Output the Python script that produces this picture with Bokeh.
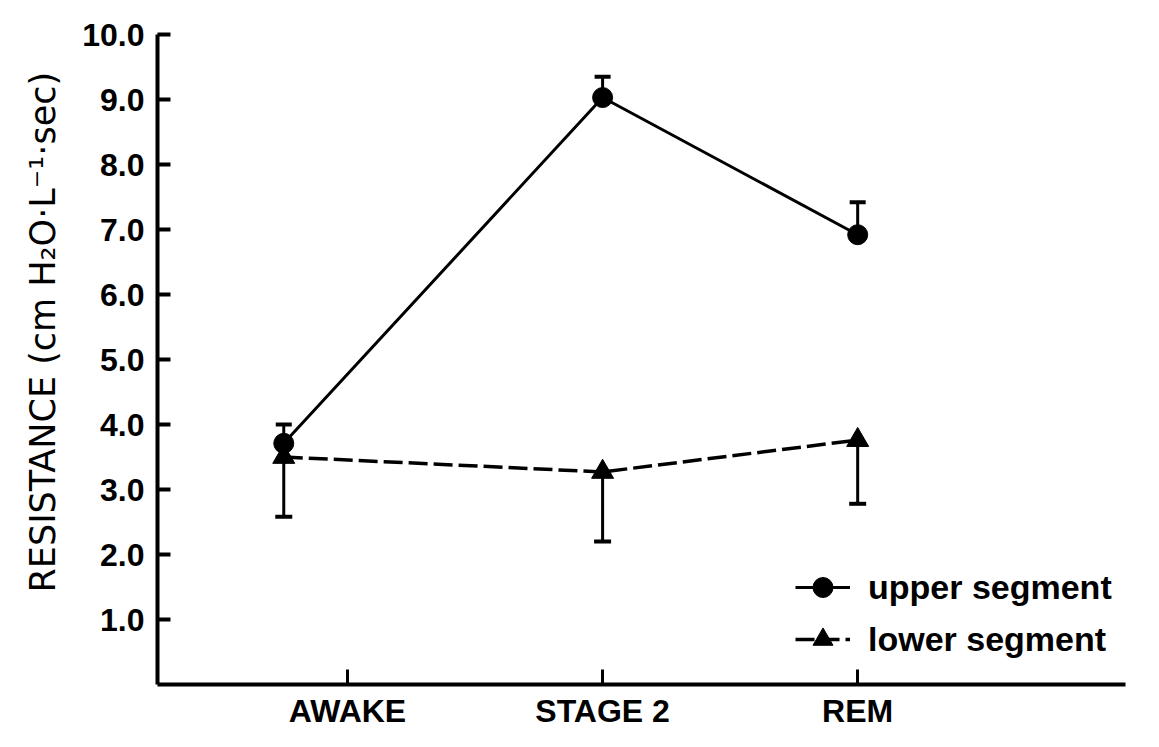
from bokeh.plotting import figure
from bokeh.models import (ColumnDataSource, Range1d, FixedTicker, NumeralTickFormatter,
                          Whisker, TeeHead, Legend, LegendItem, Title)
from bokeh.embed import file_html
from bokeh.resources import INLINE

# ---- data ----
categories = ["AWAKE", "STAGE 2", "REM"]
upper_mean = [3.71, 9.03, 6.92]
upper_err_top = [4.00, 9.35, 7.42]
lower_mean = [3.50, 3.27, 3.76]
lower_err_bottom = [2.58, 2.20, 2.78]
y_ticks = [1, 2, 3, 4, 5, 6, 7, 8, 9, 10]

# layout: category slots 1..3; the AWAKE points sit left of their tick in the original
cat_pos = [i + 1 for i in range(len(categories))]
point_shift = [-0.25, 0.0, 0.0]
xs = [c + s for c, s in zip(cat_pos, point_shift)]

up_src = ColumnDataSource(dict(x=xs, y=upper_mean, top=upper_err_top))
lo_src = ColumnDataSource(dict(x=xs, y=lower_mean, bottom=lower_err_bottom))

p = figure(width=1143, height=731, output_backend="svg", toolbar_location=None,
           x_range=Range1d(0.255, 4.05), y_range=Range1d(0, 10),
           min_border_left=157, min_border_right=18, min_border_top=34, min_border_bottom=46,
           background_fill_color="white", border_fill_color="white")
p.outline_line_color = None
p.xgrid.visible = False
p.ygrid.visible = False

TICK_FONT = "Liberation Sans"

# y axis
ya = p.yaxis[0]
ya.ticker = FixedTicker(ticks=y_ticks)
ya.formatter = NumeralTickFormatter(format="0.0")
ya.axis_line_width = 4
ya.axis_line_color = "black"
ya.major_tick_in = 13
ya.major_tick_out = 0
ya.major_tick_line_width = 4
ya.minor_tick_line_color = None
ya.major_label_text_font = TICK_FONT
ya.major_label_text_font_style = "bold"
ya.major_label_text_font_size = "32px"
ya.major_label_text_color = "black"
ya.major_label_standoff = 13

# x axis
xa = p.xaxis[0]
xa.ticker = FixedTicker(ticks=cat_pos)
xa.major_label_overrides = {c: n for c, n in zip(cat_pos, categories)}
xa.axis_line_width = 4
xa.axis_line_color = "black"
xa.major_tick_in = 15
xa.major_tick_out = 0
xa.major_tick_line_width = 3
xa.minor_tick_line_color = None
xa.major_label_text_font = TICK_FONT
xa.major_label_text_font_style = "bold"
xa.major_label_text_font_size = "32px"
xa.major_label_text_color = "black"
xa.major_label_standoff = 8

# y axis title, placed as a left-side title so it can sit where the original has it
ytitle = Title(text="RESISTANCE (cm H\u2082O\u00b7L\u207b\u00b9\u00b7sec)", align="left", offset=92,
               text_font="DejaVu Sans", text_font_size="35px", text_font_style="normal",
               text_color="black", standoff=34)
p.add_layout(ytitle, "left")

# series
l_up = p.line("x", "y", source=up_src, line_color="black", line_width=3)
l_lo = p.line("x", "y", source=lo_src, line_color="black", line_width=3.5, line_dash="19 6")

w_up = Whisker(base="x", lower="y", upper="top", source=up_src,
               line_color="black", line_width=3,
               upper_head=TeeHead(size=16, line_width=4, line_color="black"), lower_head=None)
w_lo = Whisker(base="x", lower="bottom", upper="y", source=lo_src,
               line_color="black", line_width=3,
               lower_head=TeeHead(size=17, line_width=4, line_color="black"), upper_head=None)
p.add_layout(w_up)
p.add_layout(w_lo)

s_up = p.scatter("x", "y", source=up_src, marker="circle", size=20,
                 fill_color="black", line_color="black")
s_lo = p.scatter("x", "y", source=lo_src, marker="triangle", size=22,
                 fill_color="black", line_color="black")

legend = Legend(items=[LegendItem(label="upper segment", renderers=[l_up, s_up]),
                       LegendItem(label="lower segment", renderers=[l_lo, s_lo])],
                location=(638, 20), glyph_width=55, glyph_height=50, label_height=30,
                label_standoff=18, spacing=2, padding=0, margin=0,
                border_line_color=None, background_fill_alpha=0,
                label_text_font=TICK_FONT, label_text_font_style="bold",
                label_text_font_size="34px", label_text_color="black")
p.add_layout(legend)

open("out.html", "w").write(file_html(p, INLINE))
